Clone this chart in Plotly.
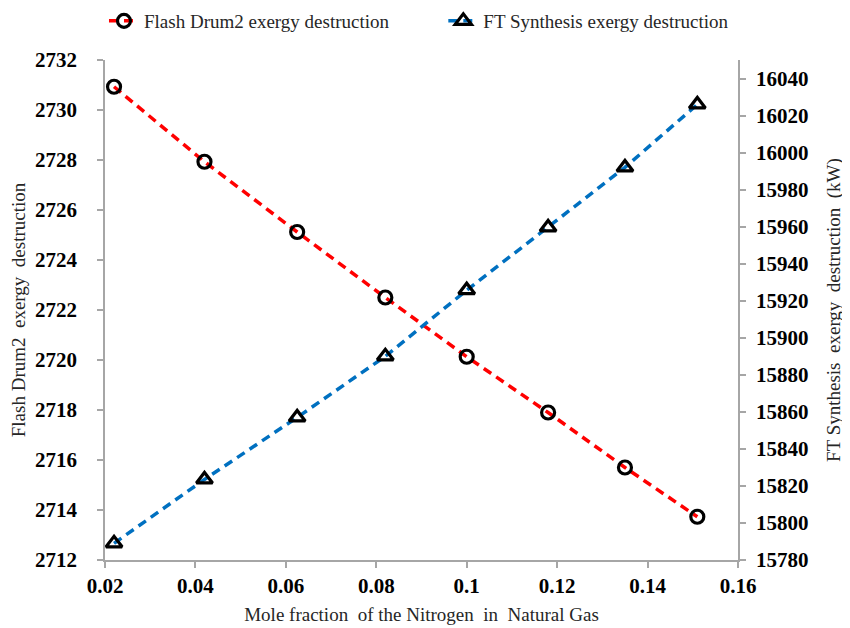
import plotly.graph_objects as go

x_vals = [0.022, 0.042, 0.0625, 0.082, 0.100, 0.118, 0.135, 0.151]
flash_drum2 = [2730.93, 2727.93, 2725.12, 2722.50, 2720.13, 2717.90, 2715.70, 2713.73]
ft_synthesis = [15789, 15823.5, 15857, 15890, 15925.7, 15959.6, 15992, 16026]

x_ticks = [0.02, 0.04, 0.06, 0.08, 0.1, 0.12, 0.14, 0.16]
x_ticktext = ["0.02", "0.04", "0.06", "0.08", "0.1", "0.12", "0.14", "0.16"]
left_ticks = list(range(2712, 2733, 2))
right_ticks = list(range(15780, 16041, 20))

FONT = "Liberation Serif, Times New Roman, serif"
AXIS_COLOR = "#a6a6a6"

fig = go.Figure()
fig.add_trace(go.Scatter(
    x=x_vals, y=flash_drum2, name="Flash Drum2 exergy destruction",
    mode="lines+markers",
    line=dict(color="#ff0000", width=3.5, dash="9px,6px"),
    marker=dict(symbol="circle-open", size=13, color="black", line=dict(width=3.2, color="black")),
    yaxis="y", legend="legend",
))
fig.add_trace(go.Scatter(
    x=x_vals, y=ft_synthesis, name="FT Synthesis exergy destruction",
    mode="lines+markers",
    line=dict(color="#0070c0", width=3.5, dash="9px,6px"),
    marker=dict(symbol="triangle-up-open", size=14, color="black", line=dict(width=3.2, color="black")),
    yaxis="y2", legend="legend2",
))

tickfont = dict(family=FONT, size=21, color="black", weight="bold")
titlefont = dict(family=FONT, size=19, color="#262626")
legfont = dict(family=FONT, size=19, color="#262626")

fig.update_layout(
    width=842, height=620,
    margin=dict(l=97, r=112, t=52, b=68, autoexpand=False),
    paper_bgcolor="white", plot_bgcolor="white",
    font=dict(family=FONT),
    showlegend=True,
    legend=dict(orientation="h", x=0.114, xanchor="left", xref="container",
                y=0.979, yref="container", yanchor="middle", font=legfont, itemwidth=30),
    legend2=dict(orientation="h", x=0.517, xanchor="left", xref="container",
                 y=0.979, yref="container", yanchor="middle", font=legfont, itemwidth=30),
    xaxis=dict(range=[0.02, 0.16], tickvals=x_ticks, ticktext=x_ticktext, automargin=False,
               showgrid=False, zeroline=False, showline=True, linecolor=AXIS_COLOR, linewidth=1.5,
               ticks="outside", ticklen=6, tickcolor=AXIS_COLOR, tickwidth=1.5,
               tickfont=tickfont,
               title=dict(text="Mole fraction  of the Nitrogen  in  Natural Gas", font=titlefont, standoff=11)),
    yaxis=dict(range=[2712, 2732], tickvals=left_ticks, automargin=False,
               showgrid=False, zeroline=False, showline=True, linecolor=AXIS_COLOR, linewidth=1.5,
               ticks="outside", ticklen=6, tickcolor=AXIS_COLOR, tickwidth=1.5,
               tickfont=tickfont, ticklabelstandoff=16,
               title=dict(text="Flash Drum2  exergy  destruction", font=titlefont, standoff=10)),
    yaxis2=dict(range=[15780, 16050], tickvals=right_ticks, tickformat="d", overlaying="y", side="right",
                automargin=False,
                showgrid=False, zeroline=False, showline=True, linecolor=AXIS_COLOR, linewidth=1.5,
                ticks="outside", ticklen=6, tickcolor=AXIS_COLOR, tickwidth=1.5,
                tickfont=tickfont, ticklabelstandoff=6,
                title=dict(text="FT Synthesis  exergy  destruction  (kW)", font=titlefont, standoff=19)),
)

fig.write_html("out.html")
